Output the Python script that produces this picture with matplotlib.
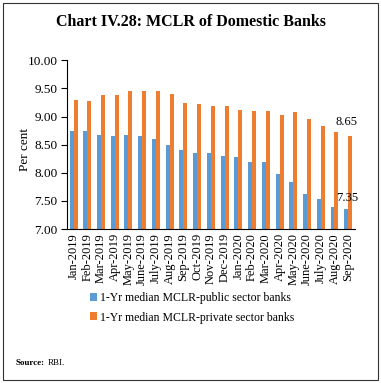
import matplotlib
matplotlib.use('Agg')
from matplotlib import pyplot as plt
from matplotlib.patches import Rectangle
import numpy as np

months = ['Jan-2019', 'Feb-2019', 'Mar-2019', 'Apr-2019', 'May-2019', 'June-2019',
          'July-2019', 'Aug-2019', 'Sep-2019', 'Oct-2019', 'Nov-2019', 'Dec-2019',
          'Jan-2020', 'Feb-2020', 'Mar-2020', 'Apr-2020', 'May-2020', 'June-2020',
          'July-2020', 'Aug-2020', 'Sep-2020']
public_banks = [8.75, 8.75, 8.68, 8.65, 8.68, 8.65, 8.60, 8.50, 8.40, 8.35, 8.35,
                8.30, 8.28, 8.20, 8.20, 7.98, 7.83, 7.63, 7.53, 7.40, 7.35]
private_banks = [9.30, 9.28, 9.38, 9.38, 9.45, 9.45, 9.45, 9.40, 9.25, 9.22, 9.18,
                 9.18, 9.12, 9.10, 9.10, 9.03, 9.08, 8.95, 8.83, 8.73, 8.65]
series_names = ['1-Yr median MCLR-public sector banks',
                '1-Yr median MCLR-private sector banks']

plt.rcParams['font.family'] = ['Liberation Serif', 'DejaVu Serif']

BLUE = '#5B9BD5'
ORANGE = '#ED7D31'

fig = plt.figure(figsize=(3.81, 3.83), dpi=100)
ax = fig.add_axes([0.175, 0.402, 0.757, 0.4405])

x = np.arange(len(months))
w = 0.29
ax.bar(x - w / 2, public_banks, width=w, color=BLUE, label=series_names[0])
ax.bar(x + w / 2, private_banks, width=w, color=ORANGE, label=series_names[1])

ax.set_ylim(7.0, 10.0)
ax.set_xlim(-0.5, len(months) - 0.5)
yt = np.arange(7.0, 10.01, 0.5)
ax.set_yticks(yt)
ax.set_yticklabels(['%.2f' % v for v in yt], fontsize=9.5)
ax.set_xticks(x)
ax.set_xticklabels(months, rotation=90, fontsize=9)
ax.tick_params(axis='x', length=0, pad=3)
ax.tick_params(axis='y', length=4.5, width=0.8, direction='out', pad=2)
ax.set_ylabel('Per cent', fontsize=9.5)
ax.yaxis.set_label_coords(-0.125, 0.47)

for s in ['top', 'right']:
    ax.spines[s].set_visible(False)
ax.spines['left'].set_linewidth(0.8)
ax.spines['bottom'].set_linewidth(0.8)

# data labels on last month
ax.annotate('%.2f' % private_banks[-1], (x[-1] + w / 2, private_banks[-1]),
            xytext=(-3, 6), textcoords='offset points', ha='center', va='bottom',
            fontsize=9)
ax.annotate('%.2f' % public_banks[-1], (x[-1] - w / 2, public_banks[-1]),
            xytext=(1, 4), textcoords='offset points', ha='center', va='bottom',
            fontsize=9)

fig.text(0.5, 0.943, 'Chart IV.28: MCLR of Domestic Banks', ha='center', va='center',
         fontsize=11.5, fontweight='bold')

handles, labels = ax.get_legend_handles_labels()
fig.legend(handles, labels, loc='upper left', bbox_to_anchor=(0.237, 0.238),
           frameon=False, fontsize=8.5, handlelength=0.55, handleheight=0.65,
           handletextpad=0.3, labelspacing=0.65, borderaxespad=0, borderpad=0)

fig.text(0.041, 0.051, 'Source:', fontsize=6.5, fontweight='bold', va='center')
fig.text(0.125, 0.051, 'RBI.', fontsize=6.5, va='center')

fig.patches.append(Rectangle((0.008, 0.008), 0.984, 0.984, transform=fig.transFigure,
                             fill=False, edgecolor='#333333', linewidth=0.8))

plt.savefig('out.png', dpi=100)
